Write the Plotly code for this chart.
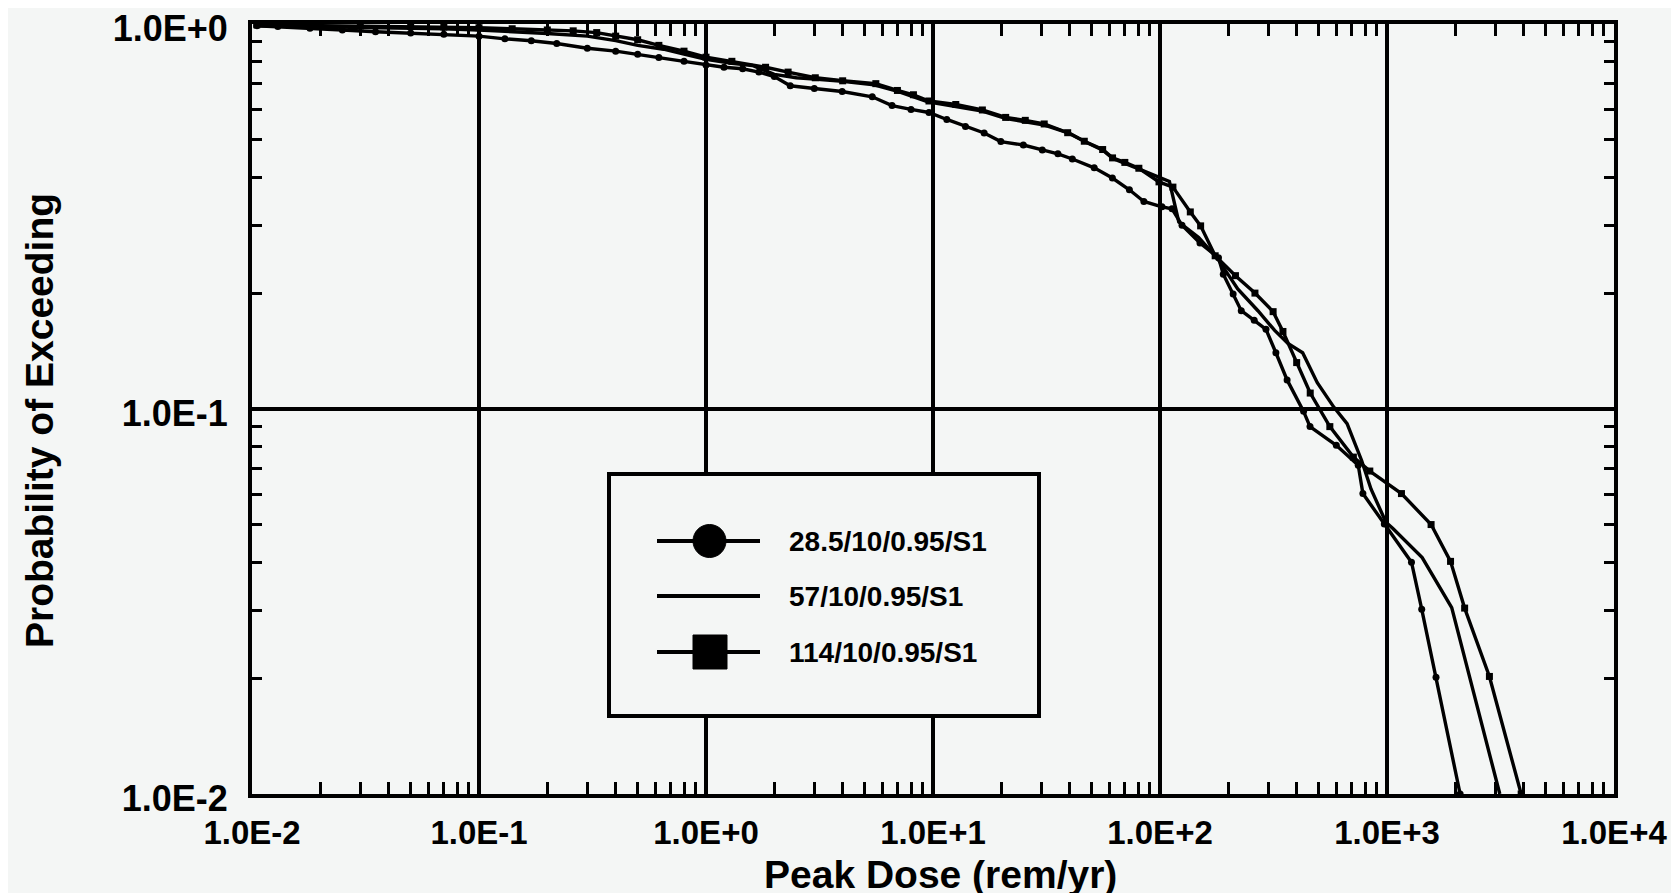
import plotly.graph_objects as go

# ---------------- data ----------------
series_names = ["28.5/10/0.95/S1", "57/10/0.95/S1", "114/10/0.95/S1"]

x_28 = [0.0105, 0.013, 0.018, 0.025, 0.035, 0.05, 0.07, 0.1, 0.13, 0.17, 0.22, 0.3, 0.4,
        0.5, 0.62, 0.8, 1.0, 1.2, 1.45, 1.71, 2.0, 2.35, 3.0, 3.98, 5.4, 6.6, 8.0, 9.6,
        11.5, 13.9, 16.8, 19.9, 25.0, 30.3, 35.5, 41.1, 51.3, 61.7, 73.3, 84.9, 102, 113,
        125, 150, 181, 190, 210, 228, 260, 293, 324, 363, 429, 458, 598, 747, 783, 973,
        1282, 1422, 1644, 2100]
y_28 = [0.99, 0.985, 0.975, 0.965, 0.955, 0.948, 0.94, 0.93, 0.915, 0.905, 0.89, 0.865, 0.85,
        0.835, 0.818, 0.80, 0.783, 0.772, 0.765, 0.75, 0.73, 0.691, 0.68, 0.668, 0.647, 0.614,
        0.60, 0.589, 0.565, 0.542, 0.521, 0.495, 0.485, 0.471, 0.46, 0.446, 0.423, 0.398,
        0.371, 0.346, 0.335, 0.331, 0.30, 0.27, 0.247, 0.224, 0.199, 0.180, 0.170, 0.161,
        0.140, 0.119, 0.0986, 0.090, 0.0805, 0.0714, 0.0603, 0.0503, 0.040, 0.0302, 0.0201,
        0.01]

x_57 = [0.0105, 0.02, 0.04, 0.07, 0.1, 0.15, 0.2, 0.3, 0.4, 0.5, 0.65, 0.8, 1.0, 1.3, 1.6,
        2.0, 2.5, 3.0, 4.0, 5.5, 7.0, 9.5, 12.5, 16.5, 21, 31, 40, 47, 56, 62, 81, 100, 110,
        121, 148, 180, 220, 270, 320, 366, 425, 493, 584, 667, 723, 773, 850, 989, 1059,
        1429, 1928, 3140]
y_57 = [0.99, 0.985, 0.98, 0.972, 0.965, 0.955, 0.945, 0.93, 0.905, 0.88, 0.86, 0.835, 0.81,
        0.79, 0.78, 0.74, 0.725, 0.72, 0.71, 0.695, 0.668, 0.628, 0.612, 0.594, 0.568, 0.546,
        0.52, 0.494, 0.47, 0.447, 0.42, 0.40, 0.39, 0.306, 0.279, 0.245, 0.205, 0.180, 0.160,
        0.148, 0.140, 0.117, 0.101, 0.0916, 0.0813, 0.0735, 0.062, 0.0508, 0.049, 0.0411,
        0.0305, 0.01]

x_114 = [0.0105, 0.015, 0.02, 0.03, 0.05, 0.07, 0.1, 0.14, 0.2, 0.26, 0.33, 0.4, 0.5, 0.62,
         0.8, 1.0, 1.3, 1.83, 2.3, 3.03, 4.0, 5.6, 6.97, 8.2, 9.6, 12.6, 16.5, 20.9, 25.5,
         30.9, 39.2, 46.4, 55.9, 61.8, 70, 80.7, 99, 114, 136, 151, 175, 215, 262, 315, 348,
         400, 459, 560, 711, 840, 1158, 1564, 1905, 2198, 2826, 3900]
y_114 = [0.995, 0.993, 0.99, 0.988, 0.985, 0.982, 0.978, 0.972, 0.965, 0.96, 0.95, 0.93, 0.91,
         0.88, 0.85, 0.82, 0.80, 0.772, 0.75, 0.725, 0.712, 0.70, 0.672, 0.655, 0.631, 0.618,
         0.598, 0.572, 0.562, 0.550, 0.522, 0.496, 0.472, 0.449, 0.437, 0.422, 0.389, 0.377,
         0.325, 0.299, 0.250, 0.222, 0.200, 0.179, 0.159, 0.132, 0.110, 0.090, 0.075, 0.069,
         0.0603, 0.0501, 0.0402, 0.0304, 0.0202, 0.01]

x_tick_vals = [0.01, 0.1, 1, 10, 100, 1000, 10000]
x_tick_text = ["1.0E-2", "1.0E-1", "1.0E+0", "1.0E+1", "1.0E+2", "1.0E+3", "1.0E+4"]
y_tick_vals = [0.01, 0.1, 1]
y_tick_text = ["1.0E-2", "1.0E-1", "1.0E+0"]
x_title = "Peak Dose (rem/yr)"
y_title = "Probability of Exceeding"

# ---------------- layout constants ----------------
W, H = 1679, 893
L, R, T, B = 244, 73, 16, 107
PW, PH = W - L - R, H - T - B
BG = "#f4f6f5"
INK = "black"
FONT = "Liberation Sans, Arial, Helvetica, sans-serif"


def px(X):
    return (X - L) / PW


def py(Y):
    return (H - B - Y) / PH


minor_x = [k * 10.0 ** d for d in range(-2, 4) for k in range(2, 10)]
minor_y = [k * 10.0 ** d for d in range(-2, 0) for k in range(2, 10)]

fig = go.Figure()
fig.add_trace(go.Scatter(x=x_28, y=y_28, mode="lines+markers", name=series_names[0],
                         line=dict(color=INK, width=3.4),
                         marker=dict(symbol="circle", size=7, color=INK)))
fig.add_trace(go.Scatter(x=x_57, y=y_57, mode="lines", name=series_names[1],
                         line=dict(color=INK, width=3.4)))
fig.add_trace(go.Scatter(x=x_114, y=y_114, mode="lines+markers", name=series_names[2],
                         line=dict(color=INK, width=3.4),
                         marker=dict(symbol="square", size=7, color=INK)))

xtickfont = dict(family=FONT, size=33, color=INK, weight=700)
ytickfont = dict(family=FONT, size=36, color=INK, weight=700)
titlefont = dict(family=FONT, size=39, color=INK, weight=700)

fig.update_xaxes(type="log", range=[-2, 4], tickmode="array", tickvals=x_tick_vals,
                 ticktext=x_tick_text, ticks="inside", ticklen=14, tickwidth=3, tickcolor=INK,
                 showgrid=True, gridcolor=INK, gridwidth=3.5, zeroline=False,
                 showline=True, linecolor=INK, linewidth=4, mirror="ticks",
                 minor=dict(tickmode="array", tickvals=minor_x, ticks="inside", ticklen=12,
                            tickwidth=3, tickcolor=INK, showgrid=False),
                 tickfont=xtickfont, ticklabelstandoff=6, ticklabeloverflow="allow")
fig.update_yaxes(type="log", range=[-2, 0], tickmode="array", tickvals=y_tick_vals,
                 ticktext=y_tick_text, ticks="inside", ticklen=14, tickwidth=3, tickcolor=INK,
                 showgrid=True, gridcolor=INK, gridwidth=3.5, zeroline=False,
                 showline=True, linecolor=INK, linewidth=4, mirror="ticks",
                 minor=dict(tickmode="array", tickvals=minor_y, ticks="inside", ticklen=10,
                            tickwidth=3, tickcolor=INK, showgrid=False),
                 tickfont=ytickfont, ticklabelstandoff=13, ticklabelshift=4,
                 ticklabeloverflow="allow")

annotations = [
    dict(xref="paper", yref="paper", x=px(932), y=py(866), text=x_title, showarrow=False,
         xanchor="center", yanchor="middle", font=titlefont),
    dict(xref="paper", yref="paper", x=px(31), y=py(413), text=y_title, showarrow=False,
         textangle=-90, xanchor="center", yanchor="middle", font=titlefont),
]

# ---------------- hand-drawn legend box (as in the original) ----------------
LX, LY = -4, -4
shapes = [dict(type="rect", xref="paper", yref="paper", x0=px(605 + LX), x1=px(1035 + LX),
               y0=py(712 + LY), y1=py(470 + LY), line=dict(color=INK, width=4), fillcolor=BG)]
rows = [537 + LY, 592 + LY, 648 + LY]
for i, Y in enumerate(rows):
    shapes.append(dict(type="line", xref="paper", yref="paper", x0=px(653 + LX), x1=px(756 + LX),
                       y0=py(Y), y1=py(Y), line=dict(color=INK, width=4)))
    annotations.append(dict(xref="paper", yref="paper", x=px(783 + LX), y=py(Y),
                            text=series_names[i], showarrow=False, xanchor="left",
                            yanchor="middle",
                            font=dict(family=FONT, size=28, color=INK, weight=700)))
shapes.append(dict(type="circle", xref="paper", yref="paper", x0=px(689 + LX), x1=px(722 + LX),
                   y0=py(rows[0] + 16.5), y1=py(rows[0] - 16.5), line=dict(color=INK, width=1),
                   fillcolor=INK))
shapes.append(dict(type="rect", xref="paper", yref="paper", x0=px(689 + LX), x1=px(723 + LX),
                   y0=py(rows[2] + 17), y1=py(rows[2] - 17), line=dict(color=INK, width=1),
                   fillcolor=INK))

fig.update_layout(width=W, height=H, margin=dict(l=L, r=R, t=T, b=B, autoexpand=False),
                  paper_bgcolor=BG, plot_bgcolor=BG, showlegend=False,
                  shapes=shapes, annotations=annotations,
                  font=dict(family=FONT, color=INK))

fig.write_html("out.html")
